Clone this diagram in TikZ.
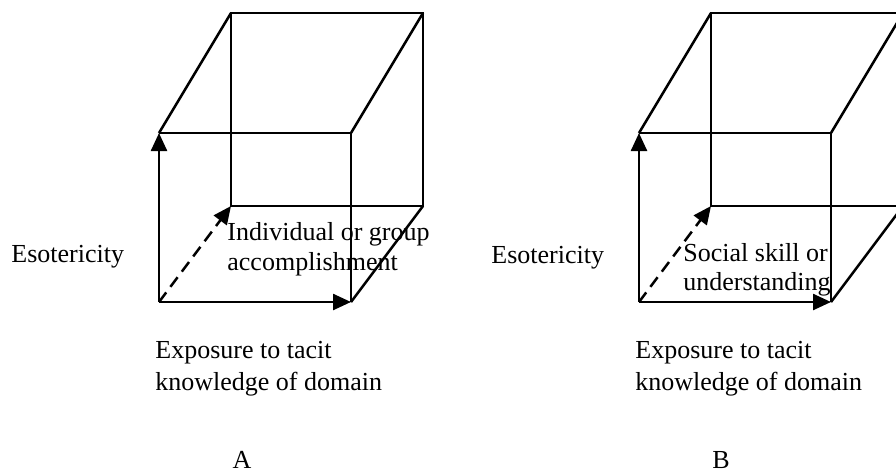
\documentclass[tikz,border=0pt]{standalone}
\usepackage{fontspec}
\setmainfont{Liberation Serif}
\usetikzlibrary{arrows.meta}
\begin{document}
\begin{tikzpicture}[x=0.5pt,y=-0.5pt,
    edge/.style={draw=black,line width=1.25pt},
    axis/.style={edge,-{Triangle[length=9pt,width=8pt]}},
    hidden/.style={axis,dash pattern=on 6pt off 3.5pt},
    every node/.style={font=\fontsize{13pt}{15pt}\selectfont,
      inner sep=0pt,anchor=base west,align=left}]
  \useasboundingbox (0,0) rectangle (896,472);
  \clip (0,0) rectangle (896,472);
  % the two boxes, panel B is panel A moved right
  \foreach \p/\dx in {A/0,B/480} {
    \coordinate (\p-fbl) at (\dx+159,302);
    \coordinate (\p-ftl) at (\dx+159,133);
    \coordinate (\p-ftr) at (\dx+351,133);
    \coordinate (\p-fbr) at (\dx+351,302);
    \coordinate (\p-bbl) at (\dx+231,206);
    \coordinate (\p-btl) at (\dx+231,13);
    \coordinate (\p-btr) at (\dx+423,13);
    \coordinate (\p-bbr) at (\dx+423,206);
    \draw[edge] (\p-ftl) -- (\p-ftr) -- (\p-fbr);
    \draw[edge] (\p-bbl) -- (\p-btl) -- (\p-btr) -- (\p-bbr) -- cycle;
    \draw[edge] (\p-ftl) -- (\p-btl) (\p-ftr) -- (\p-btr) (\p-fbr) -- (\p-bbr);
    \draw[axis] (\p-fbl) -- (\p-ftl);
    \draw[axis] (\p-fbl) -- (\p-fbr);
    \draw[hidden] (\p-fbl) -- (\p-bbl);
  }
  % panel A (multi-line nodes sit on their last line)
  \node (escA) at (11,262) {Esotericity};
  \node (accA) at (227,270) {Individual or group\\accomplishment};
  \node (expA) [font=\fontsize{13pt}{16pt}\selectfont] at (155,390)
    {Exposure to tacit\\knowledge of domain};
  \node (capA) [anchor=base] at (242,468) {A};
  % panel B
  \node (escB) at (491,263) {Esotericity};
  \node (socB) [font=\fontsize{13pt}{14.5pt}\selectfont] at (683,290)
    {Social skill or\\understanding};
  \node (expB) [font=\fontsize{13pt}{16pt}\selectfont] at (635,390)
    {Exposure to tacit\\knowledge of domain};
  \node (capB) [anchor=base] at (721,468) {B};
\end{tikzpicture}
\end{document}
